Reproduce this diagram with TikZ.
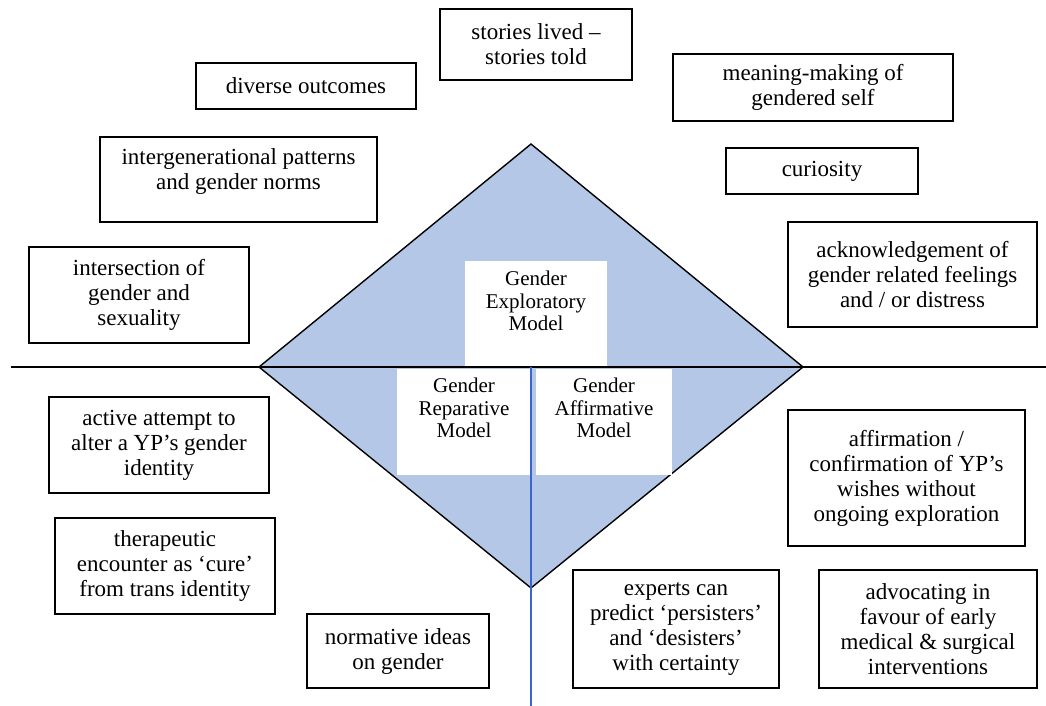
\documentclass[tikz,border=0pt]{standalone}
\usepackage{fontspec}
\setmainfont{Liberation Serif}
\usetikzlibrary{positioning}

\definecolor{diamondblue}{RGB}{180,199,231}
\definecolor{axisblue}{RGB}{60,100,205}

\tikzset{
	theme/.style={draw, line width=1.6pt, align=center, inner sep=0pt, font=\fontsize{23}{25}\selectfont},
	model/.style={fill=white, inner sep=0pt},
	modeltext/.style={align=center, inner sep=0pt, font=\fontsize{21}{22.5}\selectfont},
}

\begin{document}
\begin{tikzpicture}[x=1pt, y=-1pt]
	\useasboundingbox (0,0) rectangle (1046,706);
	% the diamond
	\coordinate (top) at (531,144);
	\coordinate (right) at (803,367);
	\coordinate (bottom) at (531,588);
	\coordinate (left) at (259,367);
	\coordinate (centre) at (531,367);
	\filldraw [fill=diamondblue, line width=1.4pt] (top) -- (right) -- (bottom) -- (left) -- cycle;

	% the three models
	\node (explore) [model, minimum width=142, minimum height=105] at (536,313.5) {};
	\node (repair) [model, minimum width=134, minimum height=106] at (464,422) {};
	\node (affirm) [model, minimum width=136, minimum height=106] at (604,422) {};
	\node (explore text) [modeltext, below=10pt of explore.north] {Gender\\Exploratory\\Model};
	\node (repair text) [modeltext, below=9pt of repair.north] {Gender\\Reparative\\Model};
	\node (affirm text) [modeltext, below=9pt of affirm.north] {Gender\\Affirmative\\Model};

	% axes
	\coordinate (west) at (11,367);
	\coordinate (east) at (1046,367);
	\coordinate (foot) at (531,706);
	\draw [line width=1.4pt] (west) -- (east);
	\draw [axisblue, line width=1.2pt] (centre) -- (foot);

	% exploratory themes
	\node (stories) [theme, minimum width=192, minimum height=71] at (536,44.5) {stories lived --\\stories told};
	\node (outcomes) [theme, minimum width=220, minimum height=46] at (306,86) {diverse outcomes};
	\node (meaning) [theme, minimum width=280, minimum height=67] at (813,87.5) {meaning-making of\\gendered self};
	\node (patterns) [theme, minimum width=277, minimum height=85] at (238.5,179.5) {intergenerational patterns\\and gender norms\\[-4pt]};
	\node (curiosity) [theme, minimum width=192, minimum height=46] at (822,171) {curiosity};
	\node (sexuality) [theme, minimum width=220, minimum height=96] at (139,295) {intersection of\\gender and\\sexuality};
	\node (feelings) [theme, minimum width=249, minimum height=105] at (912.5,274.5) {acknowledgement of\\gender related feelings\\and / or distress};

	% reparative themes
	\node (alter) [theme, minimum width=220, minimum height=96] at (159,445) {active attempt to\\alter a YP's gender\\identity};
	\node (cure) [theme, minimum width=220, minimum height=96] at (165,566) {therapeutic\\encounter as `cure'\\from trans identity};
	\node (norms) [theme, minimum width=182, minimum height=74] at (398,651) {normative ideas\\on gender};

	% affirmative themes
	\node (wishes) [theme, minimum width=237, minimum height=136] at (906.5,478) {affirmation /\\confirmation of YP's\\wishes without\\ongoing exploration};
	\node (experts) [theme, minimum width=206, minimum height=118] at (676,629) {experts can\\predict `persisters'\\and `desisters'\\with certainty};
	\node (advocacy) [theme, minimum width=218, minimum height=118] at (928,629) {advocating in\\favour of early\\medical \& surgical\\interventions};
\end{tikzpicture}
\end{document}
